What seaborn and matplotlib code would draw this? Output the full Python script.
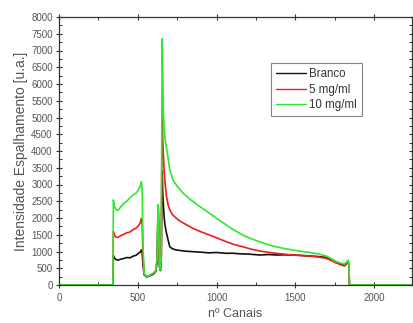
import matplotlib
matplotlib.use("Agg")
import matplotlib.pyplot as plt
from matplotlib.ticker import MultipleLocator
import seaborn as sns
import pandas as pd

# Scattering spectra: channel number vs. intensity for each sample
series_names = ["Branco", "5 mg/ml", "10 mg/ml"]
series_colors = ["#111111", "#ee1c1c", "#2ee82e"]

ch_branco = [0, 342, 345, 352, 362, 375, 390, 410, 430, 450, 470, 490, 505, 515, 523, 528, 533, 540,
             555, 570, 590, 605, 615, 622, 627, 630, 634, 638, 644, 649, 652, 655, 658, 662, 667,
             672, 682, 692, 703, 720, 745, 800, 850, 900, 950, 1000, 1062, 1100, 1150, 1210, 1273,
             1330, 1380, 1430, 1484, 1540, 1589, 1640, 1695, 1730, 1758, 1790, 1811, 1825, 1835,
             1840, 1843, 2250]
int_branco = [0, 0, 880, 800, 760, 740, 770, 790, 820, 810, 860, 890, 950, 980, 1045, 950, 600, 310,
              240, 260, 300, 350, 420, 700, 1800, 2200, 1300, 520, 430, 800, 2500, 3400, 2800, 2400,
              2040, 1800, 1550, 1350, 1140, 1080, 1045, 1010, 995, 980, 960, 970, 945, 950, 930, 920,
              895, 910, 895, 900, 895, 880, 865, 850, 825, 760, 665, 620, 600, 660, 720, 560, 0, 0]

ch_5mg = [0, 342, 345, 352, 362, 375, 390, 410, 430, 450, 470, 490, 505, 515, 523, 528, 533, 540,
          555, 570, 590, 605, 615, 622, 627, 630, 634, 638, 644, 649, 652, 655, 658, 661, 666,
          672, 682, 692, 703, 720, 745, 770, 800, 850, 900, 956, 1010, 1062, 1110, 1167, 1220,
          1273, 1330, 1378, 1430, 1484, 1540, 1589, 1640, 1695, 1730, 1758, 1790, 1811, 1825,
          1835, 1840, 1843, 2250]
int_5mg = [0, 0, 1600, 1480, 1430, 1420, 1470, 1510, 1560, 1580, 1650, 1700, 1780, 1850, 1990, 1800,
           900, 330, 250, 270, 320, 370, 440, 750, 1900, 2300, 1400, 560, 450, 850, 3500, 5250, 4400,
           4000, 3500, 3100, 2640, 2400, 2240, 2100, 1990, 1900, 1820, 1690, 1590, 1490, 1390, 1290,
           1210, 1140, 1070, 1015, 975, 945, 920, 895, 880, 865, 840, 795, 730, 665, 600, 565, 630,
           700, 550, 0, 0]

ch_10mg = [0, 342, 345, 352, 362, 375, 390, 410, 430, 450, 470, 490, 505, 515, 523, 528, 533, 540,
           555, 570, 590, 605, 615, 622, 627, 630, 634, 638, 644, 649, 652, 655, 658, 662, 668,
           675, 685, 703, 724, 750, 787, 850, 900, 956, 1000, 1062, 1110, 1167, 1220, 1273, 1330,
           1378, 1430, 1484, 1540, 1589, 1640, 1695, 1730, 1758, 1790, 1811, 1825, 1835, 1840,
           1843, 2250]
int_10mg = [0, 0, 2540, 2350, 2250, 2230, 2320, 2430, 2500, 2600, 2680, 2750, 2850, 2950, 3080, 2800,
            1200, 350, 250, 270, 330, 380, 450, 800, 2000, 2400, 1500, 600, 450, 900, 4500, 7350,
            6400, 5200, 4600, 4300, 4000, 3450, 3130, 2950, 2740, 2490, 2320, 2140, 1990, 1790, 1640,
            1490, 1380, 1290, 1200, 1140, 1090, 1045, 1000, 975, 930, 865, 780, 700, 650, 625, 680,
            745, 600, 0, 0]

x_ticks = [0, 500, 1000, 1500, 2000]
y_ticks = list(range(0, 8001, 500))

frames = []
for name, xs, ys in [(series_names[0], ch_branco, int_branco),
                     (series_names[1], ch_5mg, int_5mg),
                     (series_names[2], ch_10mg, int_10mg)]:
    frames.append(pd.DataFrame({"canal": xs, "intensidade": ys, "amostra": name}))
df = pd.concat(frames, ignore_index=True)

sns.set_theme(style="white")
plt.rcParams["font.family"] = ["Liberation Sans", "DejaVu Sans"]

fig = plt.figure(figsize=(4.13, 3.23), dpi=100)
ax = fig.add_axes([59 / 413, 1 - 285 / 323, 353 / 413, 268 / 323])

sns.lineplot(data=df, x="canal", y="intensidade", hue="amostra",
             hue_order=series_names, palette=series_colors,
             estimator=None, sort=False, linewidth=1.2, ax=ax)

ax.set_xlim(0, 2240)
ax.set_ylim(0, 8000)
ax.set_xticks(x_ticks)
ax.set_yticks(y_ticks)
ax.xaxis.set_minor_locator(MultipleLocator(250))
ax.yaxis.set_minor_locator(MultipleLocator(250))

text_color = "#555555"
ax.tick_params(which="major", direction="inout", length=5, width=0.8,
               colors="#333333", labelcolor=text_color, labelsize=7,
               top=True, right=True, bottom=True, left=True)
ax.tick_params(which="minor", direction="in", length=2.5, width=0.7,
               colors="#333333", top=True, right=True, bottom=True, left=True)
ax.tick_params(axis="x", pad=3)
ax.tick_params(axis="y", pad=2)

for side in ["top", "right", "bottom", "left"]:
    ax.spines[side].set_visible(True)
    ax.spines[side].set_color("#333333")
    ax.spines[side].set_linewidth(0.9)

ax.set_xlabel("nº Canais", fontsize=9, color=text_color, labelpad=4)
ax.set_ylabel("Intensidade Espalhamento [u.a.]", fontsize=10, color=text_color, labelpad=2)

leg = ax.legend(loc="upper left", bbox_to_anchor=(0.60, 0.828), borderaxespad=0,
                frameon=True, fancybox=False, edgecolor="#666666", fontsize=8.3,
                handlelength=2.6, handletextpad=0.3, borderpad=0.45, labelspacing=0.3)
leg.get_frame().set_linewidth(0.8)
for t in leg.get_texts():
    t.set_color("#333333")
for line in leg.get_lines():
    line.set_linewidth(1.0)

fig.savefig("out.png", dpi=100)
